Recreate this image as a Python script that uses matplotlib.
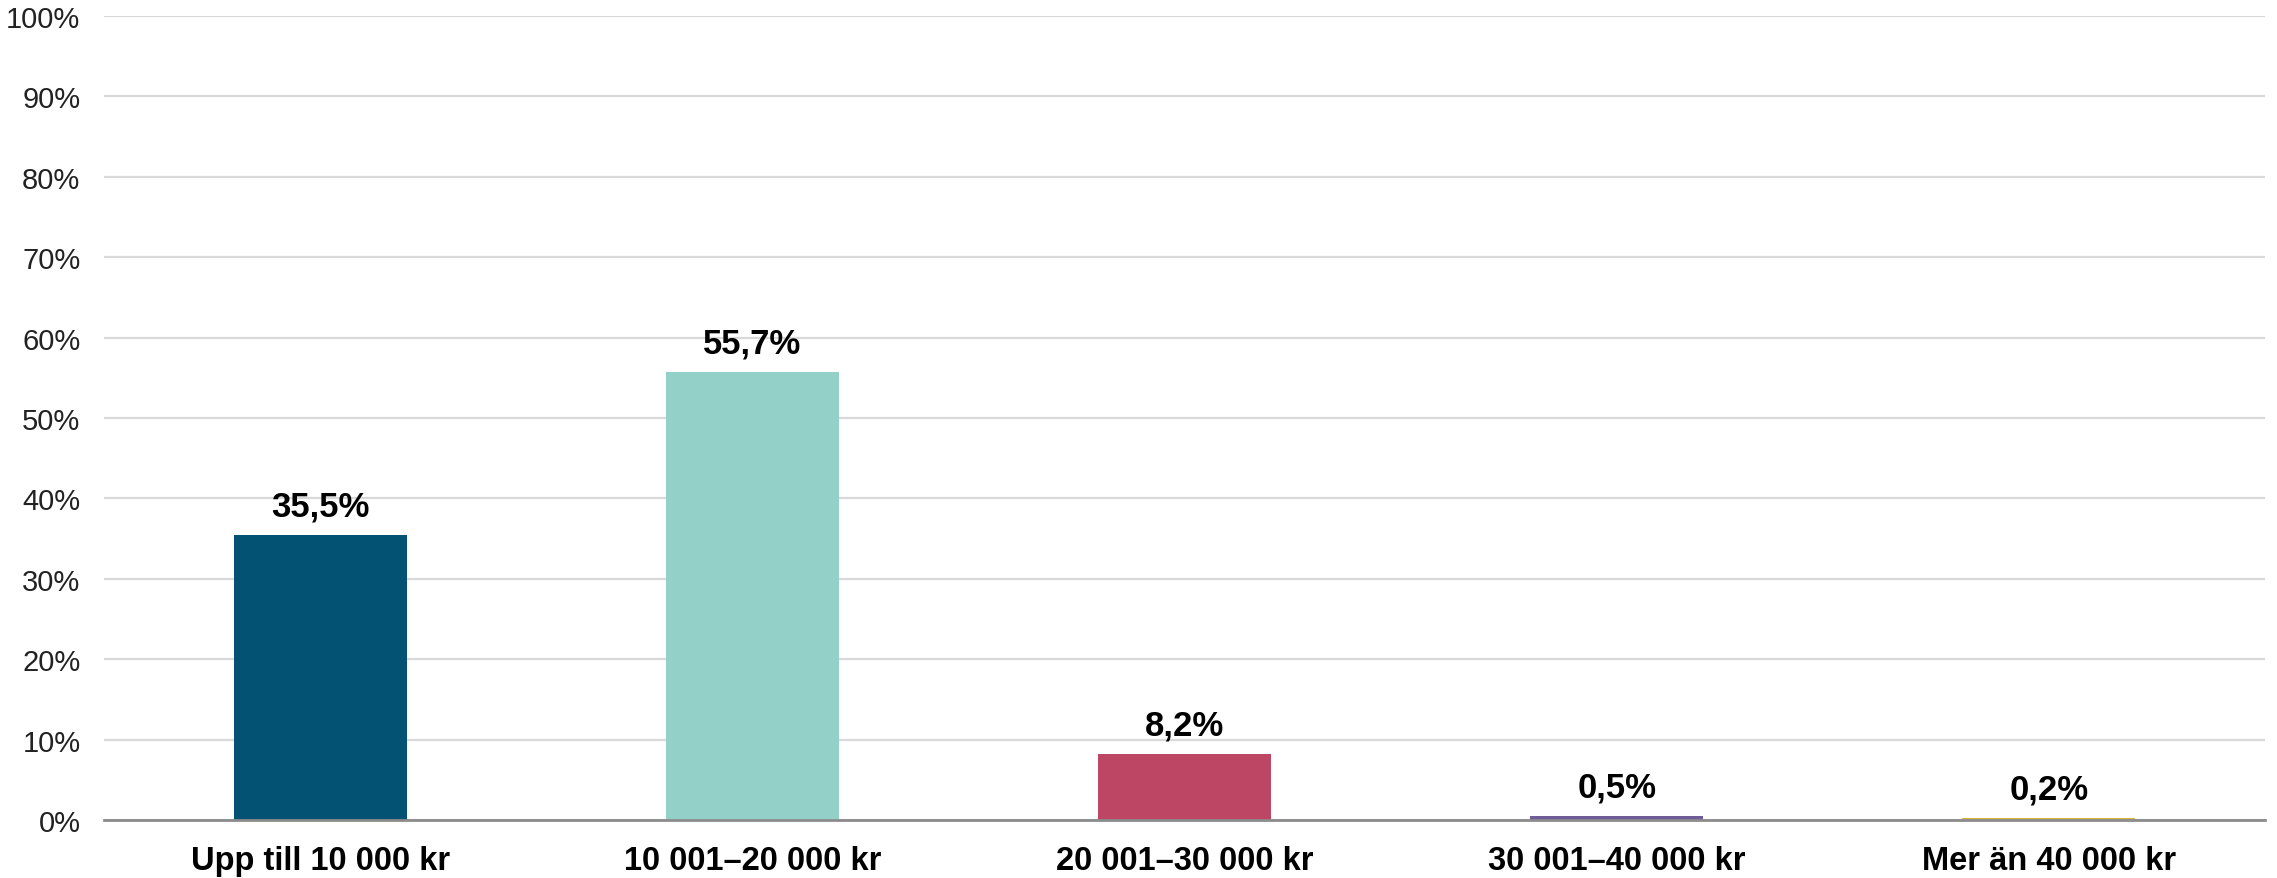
import matplotlib.pyplot as plt
from matplotlib.ticker import FuncFormatter

categories = ['Upp till 10 000 kr', '10 001–20 000 kr', '20 001–30 000 kr',
              '30 001–40 000 kr', 'Mer än 40 000 kr']
values = [35.5, 55.7, 8.2, 0.5, 0.2]
value_labels = ['35,5%', '55,7%', '8,2%', '0,5%', '0,2%']
colors = ['#035274', '#93D0C8', '#BC4664', '#6F5C99', '#D9B43C']
yticks = list(range(0, 101, 10))

plt.rcParams['font.family'] = ['Liberation Sans', 'DejaVu Sans']

fig = plt.figure(figsize=(22.77, 8.79), dpi=100)
ax = fig.add_axes([0.0457, 0.066, 0.949, 0.9147])

x = range(len(categories))
bars = ax.bar(x, values, width=0.4, color=colors, zorder=3)

for b, lab in zip(bars, value_labels):
    ax.annotate(lab, (b.get_x() + b.get_width() / 2, b.get_height()),
                xytext=(0, 9), textcoords='offset points',
                ha='center', va='bottom', fontsize=25, fontweight='bold')

ax.set_xlim(-0.5, len(categories) - 0.5)
ax.set_ylim(0, 100)
ax.set_yticks(yticks)
ax.yaxis.set_major_formatter(FuncFormatter(lambda v, p: f'{int(v)}%'))
ax.set_xticks(list(x))
ax.set_xticklabels(categories, fontsize=23.5, fontweight='bold')
ax.tick_params(axis='y', labelsize=21, length=0, pad=17, labelcolor='#222222')
ax.tick_params(axis='x', length=0, pad=18)

ax.grid(axis='y', color='#D9D9D9', linewidth=1.6, zorder=0)
for s in ['top', 'right', 'left']:
    ax.spines[s].set_visible(False)
ax.spines['bottom'].set_color('#8C8C8C')
ax.spines['bottom'].set_linewidth(2)
ax.spines['bottom'].set_zorder(4)

fig.savefig('out.png', dpi=100)
